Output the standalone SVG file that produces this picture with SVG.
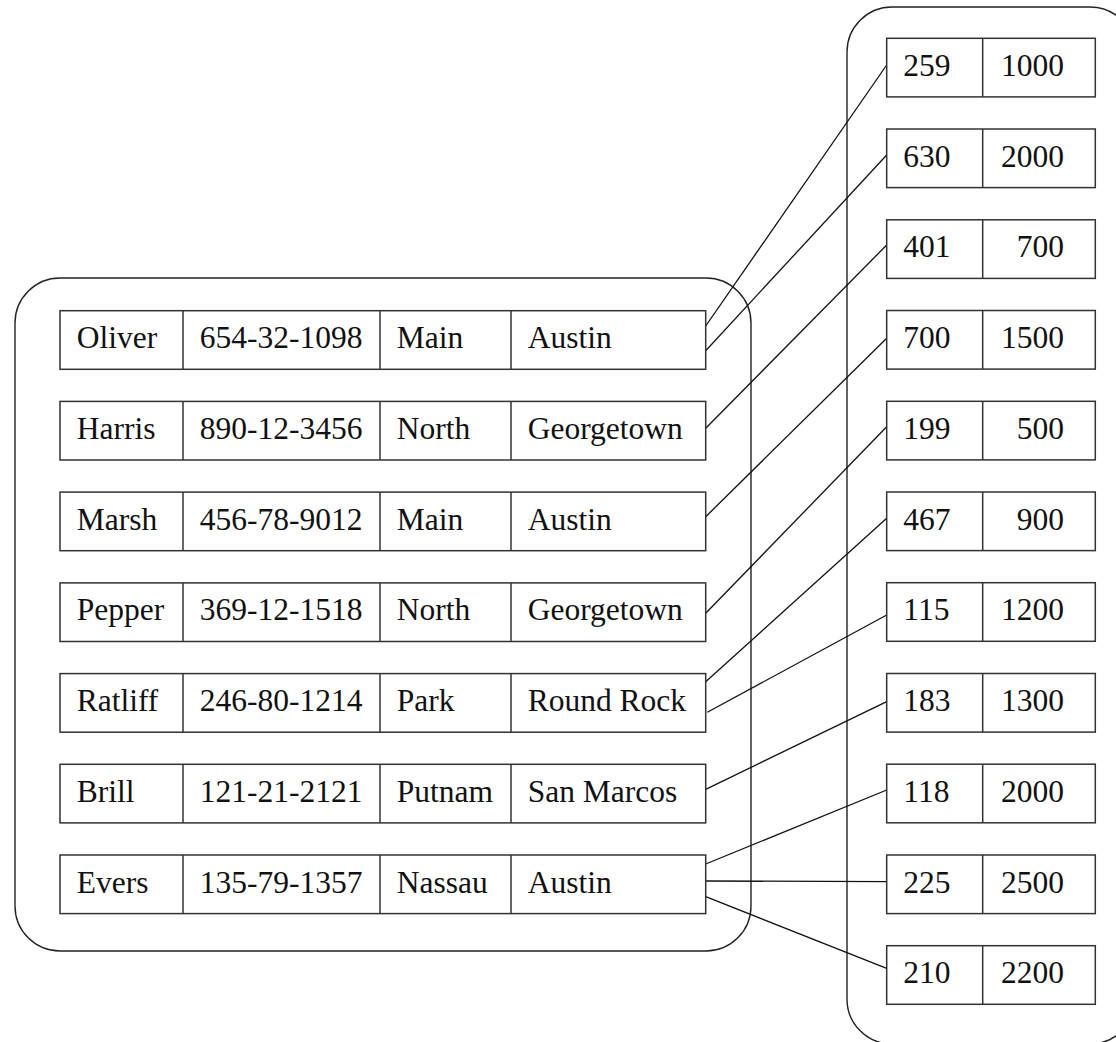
<svg xmlns="http://www.w3.org/2000/svg" width="1116" height="1042" viewBox="0 0 1116 1042">
<style>
.frame{fill:none;stroke:#222;stroke-width:1.4}
.cell{fill:#fff;stroke:#333;stroke-width:1.5}
.sep{stroke:#333;stroke-width:1.5}
.t{font-family:"Liberation Serif","Times New Roman",serif;font-size:31.5px;fill:#111}
.e{text-anchor:end}
.conn line{stroke:#111;stroke-width:1.3}
</style>
<rect id="left-frame" class="frame" x="15" y="278" width="736" height="673" rx="45" ry="45"/>
<rect id="right-frame" class="frame" x="847" y="7" width="288" height="1037" rx="45" ry="45"/>
<g id="connectors" class="conn">
<line x1="705.7" y1="326" x2="886.7" y2="65"/>
<line x1="705.7" y1="350.7" x2="886.7" y2="155"/>
<line x1="705.7" y1="428.3" x2="886.7" y2="245"/>
<line x1="705.7" y1="516.7" x2="886.7" y2="338.3"/>
<line x1="705.7" y1="613.3" x2="886.7" y2="426.7"/>
<line x1="705.7" y1="681.7" x2="886.7" y2="518.3"/>
<line x1="707.3" y1="712.3" x2="886.7" y2="615"/>
<line x1="705.7" y1="789.3" x2="886.7" y2="701.7"/>
<line x1="705.7" y1="864" x2="886.7" y2="790"/>
<line x1="705.7" y1="881" x2="886.7" y2="881.7"/>
<line x1="705.7" y1="896.7" x2="886.7" y2="968.3"/>
</g>
<g id="row-oliver" transform="translate(0,310.7)">
<rect class="cell" x="60" y="0" width="645.7" height="58.6"/>
<line class="sep" x1="183" y1="0" x2="183" y2="58.6"/><line class="sep" x1="380" y1="0" x2="380" y2="58.6"/><line class="sep" x1="511" y1="0" x2="511" y2="58.6"/>
<text class="t" x="76.7" y="37.6">Oliver</text><text class="t" x="199.7" y="37.6">654-32-1098</text><text class="t" x="396.7" y="37.6">Main</text><text class="t" x="527.7" y="37.6">Austin</text>
</g>
<g id="row-harris" transform="translate(0,401.4)">
<rect class="cell" x="60" y="0" width="645.7" height="58.6"/>
<line class="sep" x1="183" y1="0" x2="183" y2="58.6"/><line class="sep" x1="380" y1="0" x2="380" y2="58.6"/><line class="sep" x1="511" y1="0" x2="511" y2="58.6"/>
<text class="t" x="76.7" y="37.6">Harris</text><text class="t" x="199.7" y="37.6">890-12-3456</text><text class="t" x="396.7" y="37.6">North</text><text class="t" x="527.7" y="37.6">Georgetown</text>
</g>
<g id="row-marsh" transform="translate(0,492.1)">
<rect class="cell" x="60" y="0" width="645.7" height="58.6"/>
<line class="sep" x1="183" y1="0" x2="183" y2="58.6"/><line class="sep" x1="380" y1="0" x2="380" y2="58.6"/><line class="sep" x1="511" y1="0" x2="511" y2="58.6"/>
<text class="t" x="76.7" y="37.6">Marsh</text><text class="t" x="199.7" y="37.6">456-78-9012</text><text class="t" x="396.7" y="37.6">Main</text><text class="t" x="527.7" y="37.6">Austin</text>
</g>
<g id="row-pepper" transform="translate(0,582.9)">
<rect class="cell" x="60" y="0" width="645.7" height="58.6"/>
<line class="sep" x1="183" y1="0" x2="183" y2="58.6"/><line class="sep" x1="380" y1="0" x2="380" y2="58.6"/><line class="sep" x1="511" y1="0" x2="511" y2="58.6"/>
<text class="t" x="76.7" y="37.6">Pepper</text><text class="t" x="199.7" y="37.6">369-12-1518</text><text class="t" x="396.7" y="37.6">North</text><text class="t" x="527.7" y="37.6">Georgetown</text>
</g>
<g id="row-ratliff" transform="translate(0,673.6)">
<rect class="cell" x="60" y="0" width="645.7" height="58.6"/>
<line class="sep" x1="183" y1="0" x2="183" y2="58.6"/><line class="sep" x1="380" y1="0" x2="380" y2="58.6"/><line class="sep" x1="511" y1="0" x2="511" y2="58.6"/>
<text class="t" x="76.7" y="37.6">Ratliff</text><text class="t" x="199.7" y="37.6">246-80-1214</text><text class="t" x="396.7" y="37.6">Park</text><text class="t" x="527.7" y="37.6">Round Rock</text>
</g>
<g id="row-brill" transform="translate(0,764.3)">
<rect class="cell" x="60" y="0" width="645.7" height="58.6"/>
<line class="sep" x1="183" y1="0" x2="183" y2="58.6"/><line class="sep" x1="380" y1="0" x2="380" y2="58.6"/><line class="sep" x1="511" y1="0" x2="511" y2="58.6"/>
<text class="t" x="76.7" y="37.6">Brill</text><text class="t" x="199.7" y="37.6">121-21-2121</text><text class="t" x="396.7" y="37.6">Putnam</text><text class="t" x="527.7" y="37.6">San Marcos</text>
</g>
<g id="row-evers" transform="translate(0,855)">
<rect class="cell" x="60" y="0" width="645.7" height="58.6"/>
<line class="sep" x1="183" y1="0" x2="183" y2="58.6"/><line class="sep" x1="380" y1="0" x2="380" y2="58.6"/><line class="sep" x1="511" y1="0" x2="511" y2="58.6"/>
<text class="t" x="76.7" y="37.6">Evers</text><text class="t" x="199.7" y="37.6">135-79-1357</text><text class="t" x="396.7" y="37.6">Nassau</text><text class="t" x="527.7" y="37.6">Austin</text>
</g>
<g id="acct-259" transform="translate(0,38.3)">
<rect class="cell" x="886.7" y="0" width="208.6" height="58.6"/><line class="sep" x1="982.7" y1="0" x2="982.7" y2="58.6"/>
<text class="t" x="903.3" y="37.6">259</text><text class="t e" x="1064" y="37.6">1000</text>
</g>
<g id="acct-630" transform="translate(0,129)">
<rect class="cell" x="886.7" y="0" width="208.6" height="58.6"/><line class="sep" x1="982.7" y1="0" x2="982.7" y2="58.6"/>
<text class="t" x="903.3" y="37.6">630</text><text class="t e" x="1064" y="37.6">2000</text>
</g>
<g id="acct-401" transform="translate(0,219.8)">
<rect class="cell" x="886.7" y="0" width="208.6" height="58.6"/><line class="sep" x1="982.7" y1="0" x2="982.7" y2="58.6"/>
<text class="t" x="903.3" y="37.6">401</text><text class="t e" x="1064" y="37.6">700</text>
</g>
<g id="acct-700" transform="translate(0,310.5)">
<rect class="cell" x="886.7" y="0" width="208.6" height="58.6"/><line class="sep" x1="982.7" y1="0" x2="982.7" y2="58.6"/>
<text class="t" x="903.3" y="37.6">700</text><text class="t e" x="1064" y="37.6">1500</text>
</g>
<g id="acct-199" transform="translate(0,401.3)">
<rect class="cell" x="886.7" y="0" width="208.6" height="58.6"/><line class="sep" x1="982.7" y1="0" x2="982.7" y2="58.6"/>
<text class="t" x="903.3" y="37.6">199</text><text class="t e" x="1064" y="37.6">500</text>
</g>
<g id="acct-467" transform="translate(0,492)">
<rect class="cell" x="886.7" y="0" width="208.6" height="58.6"/><line class="sep" x1="982.7" y1="0" x2="982.7" y2="58.6"/>
<text class="t" x="903.3" y="37.6">467</text><text class="t e" x="1064" y="37.6">900</text>
</g>
<g id="acct-115" transform="translate(0,582.7)">
<rect class="cell" x="886.7" y="0" width="208.6" height="58.6"/><line class="sep" x1="982.7" y1="0" x2="982.7" y2="58.6"/>
<text class="t" x="903.3" y="37.6">115</text><text class="t e" x="1064" y="37.6">1200</text>
</g>
<g id="acct-183" transform="translate(0,673.5)">
<rect class="cell" x="886.7" y="0" width="208.6" height="58.6"/><line class="sep" x1="982.7" y1="0" x2="982.7" y2="58.6"/>
<text class="t" x="903.3" y="37.6">183</text><text class="t e" x="1064" y="37.6">1300</text>
</g>
<g id="acct-118" transform="translate(0,764.2)">
<rect class="cell" x="886.7" y="0" width="208.6" height="58.6"/><line class="sep" x1="982.7" y1="0" x2="982.7" y2="58.6"/>
<text class="t" x="903.3" y="37.6">118</text><text class="t e" x="1064" y="37.6">2000</text>
</g>
<g id="acct-225" transform="translate(0,855)">
<rect class="cell" x="886.7" y="0" width="208.6" height="58.6"/><line class="sep" x1="982.7" y1="0" x2="982.7" y2="58.6"/>
<text class="t" x="903.3" y="37.6">225</text><text class="t e" x="1064" y="37.6">2500</text>
</g>
<g id="acct-210" transform="translate(0,945.7)">
<rect class="cell" x="886.7" y="0" width="208.6" height="58.6"/><line class="sep" x1="982.7" y1="0" x2="982.7" y2="58.6"/>
<text class="t" x="903.3" y="37.6">210</text><text class="t e" x="1064" y="37.6">2200</text>
</g>
</svg>
